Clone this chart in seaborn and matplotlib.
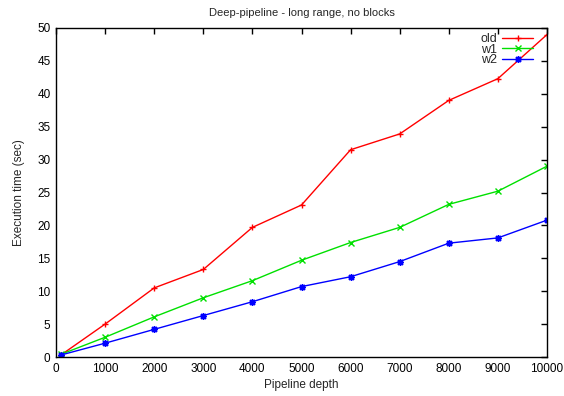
import matplotlib
matplotlib.use("Agg")
import matplotlib.pyplot as plt
from matplotlib.lines import Line2D
import seaborn as sns
import pandas as pd

depth = [100, 1000, 2000, 3000, 4000, 5000, 6000, 7000, 8000, 9000, 10000]
old = [0.3, 5.0, 10.5, 13.3, 19.7, 23.1, 31.5, 33.9, 39.0, 42.3, 49.0]
w1 = [0.4, 3.0, 6.1, 9.0, 11.6, 14.7, 17.4, 19.7, 23.2, 25.2, 29.0]
w2 = [0.3, 2.1, 4.2, 6.3, 8.4, 10.7, 12.2, 14.5, 17.3, 18.1, 20.8]
series = ["old", "w1", "w2"]
x_ticks = [0, 1000, 2000, 3000, 4000, 5000, 6000, 7000, 8000, 9000, 10000]
y_ticks = [0, 5, 10, 15, 20, 25, 30, 35, 40, 45, 50]

df = pd.DataFrame({
    "depth": depth * 3,
    "time": old + w1 + w2,
    "series": [s for s in series for _ in depth],
})

sns.set_style("white")
plt.rcParams["font.family"] = ["Liberation Sans", "DejaVu Sans"]

fig = plt.figure(figsize=(5.64, 3.96), dpi=100)
ax = fig.add_axes([56 / 564, 1 - 357 / 396, (547 - 56) / 564, (357 - 28) / 396])

palette = {"old": "#ff0000", "w1": "#00e000", "w2": "#0000ff"}
markers = {"old": "+", "w1": "x", "w2": (8, 2, 0)}
msize = {"old": 5, "w1": 4, "w2": 5}
sns.lineplot(data=df, x="depth", y="time", hue="series", style="series",
             palette=palette, markers=markers, dashes=False, markersize=5,
             linewidth=1.0, ax=ax, legend=False)

# point symbols in the line colour
for ln, s in zip(ax.lines, series):
    ln.set_markeredgecolor(ln.get_color())
    ln.set_markeredgewidth(1.0)
    ln.set_markersize(msize[s])

ax.set_xlim(0, 10000)
ax.set_ylim(0, 50)
ax.set_xticks(x_ticks)
ax.set_yticks(y_ticks)
ax.tick_params(direction="in", length=4, width=1, top=True, right=True,
               labelsize=8.5, colors="black", pad=4)
for sp in ax.spines.values():
    sp.set_color("black")
    sp.set_linewidth(1.0)

ax.set_xlabel("Pipeline depth", fontsize=8.5, labelpad=3)
ax.set_ylabel("Execution time (sec)", fontsize=8.5, labelpad=9)
ax.set_title("Deep-pipeline - long range, no blocks", fontsize=8, pad=9)

handles = [Line2D([], [], color=palette[s], marker=markers[s], markersize=msize[s],
                  markeredgecolor=palette[s], markeredgewidth=1.0, linewidth=1.0)
           for s in series]
ax.legend(handles, series, loc="upper right", bbox_to_anchor=(0.9715, 0.985),
          frameon=False, markerfirst=False, handlelength=2.45, fontsize=9,
          labelspacing=-0.1, borderpad=0, borderaxespad=0, handletextpad=0.45)

fig.savefig("out.png", dpi=100)
